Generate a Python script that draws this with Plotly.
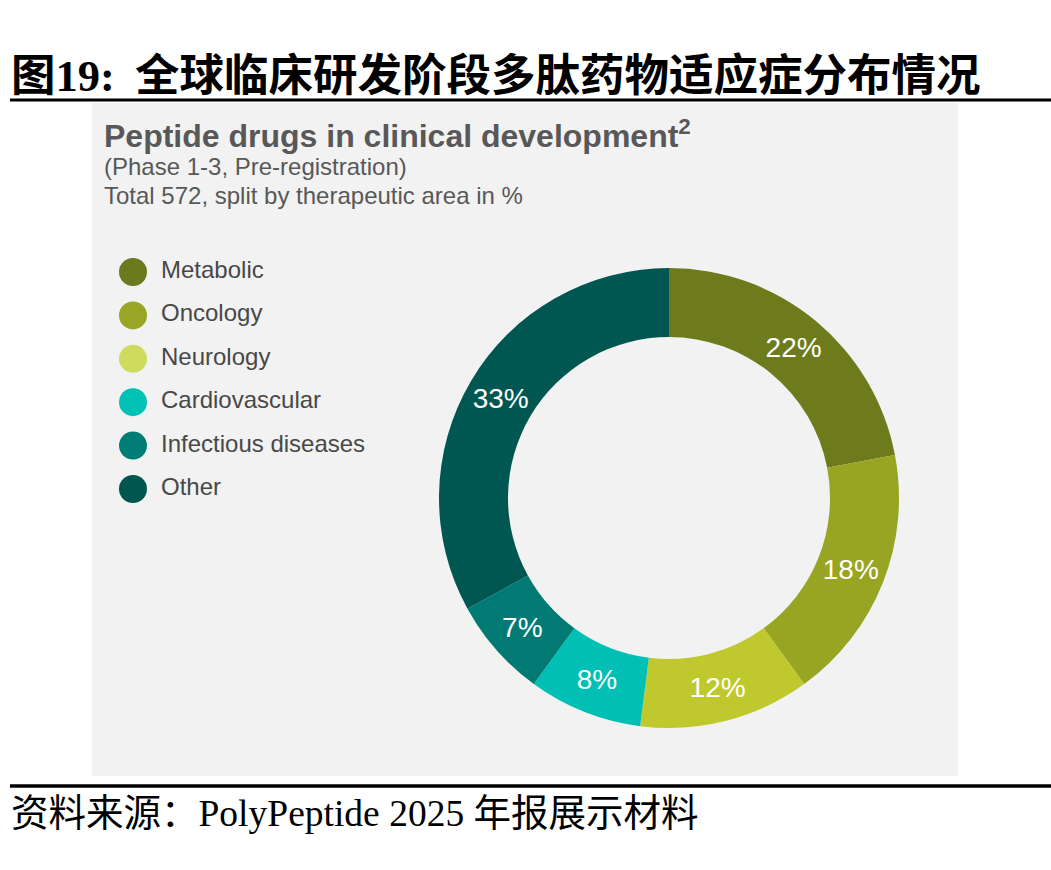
import plotly.graph_objects as go

# data
areas = ["Metabolic", "Oncology", "Neurology", "Cardiovascular", "Infectious diseases", "Other"]
shares = [22, 18, 12, 8, 7, 33]
colors = ["#6e7b1c", "#97a523", "#bfc92d", "#00bfb4", "#007a72", "#005752"]
legend_colors = ["#6b791f", "#98a625", "#cfdb5c", "#00c1b6", "#007d74", "#00554f"]

W, H = 1051, 870
FONT = "Liberation Sans, Arial, sans-serif"
CJK = "Noto Sans CJK SC"
GREY_TXT = "#585858"

def px(x):
    return x / W

def py(y):
    return 1 - y / H

fig = go.Figure()

# donut
cx, cy, r = 669, 498, 230
fig.add_trace(go.Pie(
    labels=areas,
    values=shares,
    sort=False,
    direction="clockwise",
    rotation=0,
    hole=0.70,
    marker=dict(colors=colors, line=dict(width=0)),
    texttemplate="%{value}%",
    textposition="inside",
    insidetextorientation="horizontal",
    textfont=dict(family=FONT, size=28, color="white"),
    domain=dict(x=[px(cx - r), px(cx + r)], y=[py(cy + r), py(cy - r)]),
    showlegend=False,
    hoverinfo="label+value",
))

# legend drawn as circles + labels
row0, step = 272, 43.4
idx = list(range(len(areas)))
fig.add_trace(go.Scatter(
    x=[0] * len(areas), y=idx, mode="markers",
    marker=dict(size=28, color=legend_colors),
    showlegend=False, hoverinfo="skip",
))
fig.add_trace(go.Scatter(
    x=[28] * len(areas), y=idx, mode="text", text=areas,
    textposition="middle right",
    textfont=dict(family=FONT, size=24, color="#484848"),
    showlegend=False, hoverinfo="skip",
))

fig.update_layout(
    width=W, height=H,
    margin=dict(l=0, r=0, t=0, b=0),
    paper_bgcolor="white",
    plot_bgcolor="rgba(0,0,0,0)",
    xaxis=dict(domain=[0, 1], range=[-133, W - 133], visible=False, fixedrange=True),
    yaxis=dict(domain=[0, 1], range=[(H - row0) / step, -row0 / step],
               visible=False, fixedrange=True),
    shapes=[
        # grey panel
        dict(type="rect", xref="paper", yref="paper", layer="below",
             x0=px(92), x1=px(958), y0=py(776), y1=py(103),
             fillcolor="#f2f2f2", line=dict(width=0)),
        # top and bottom rules
        dict(type="line", xref="paper", yref="paper",
             x0=px(10), x1=1, y0=py(100), y1=py(100),
             line=dict(color="black", width=3)),
        dict(type="line", xref="paper", yref="paper",
             x0=px(10), x1=1, y0=py(786), y1=py(786),
             line=dict(color="black", width=3.5)),
    ],
    annotations=[
        dict(xref="paper", yref="paper", x=px(9), y=py(72), xanchor="left", yanchor="middle",
             showarrow=False,
             text=("<b>图</b><span style=\"font-family:Liberation Serif\"><b>19:</b></span>"
                   "<b>  全球临床研发阶段多肽药物适应症分布情况</b>"),
             font=dict(family=CJK, size=44.5, color="black")),
        dict(xref="paper", yref="paper", x=px(102), y=py(134), xanchor="left", yanchor="middle",
             showarrow=False,
             text="<b>Peptide drugs in clinical development<sup>2</sup></b>",
             font=dict(family=FONT, size=32, color=GREY_TXT)),
        dict(xref="paper", yref="paper", x=px(102), y=py(166), xanchor="left", yanchor="middle",
             showarrow=False, text="(Phase 1-3, Pre-registration)",
             font=dict(family=FONT, size=24, color=GREY_TXT)),
        dict(xref="paper", yref="paper", x=px(102), y=py(196), xanchor="left", yanchor="middle",
             showarrow=False, text="Total 572, split by therapeutic area in %",
             font=dict(family=FONT, size=24, color=GREY_TXT)),
        dict(xref="paper", yref="paper", x=px(9), y=py(809), xanchor="left", yanchor="middle",
             showarrow=False,
             text=("资料来源：<span style=\"font-family:Liberation Serif\">PolyPeptide 2025 </span>"
                   "年报展示材料"),
             font=dict(family=CJK, size=37.5, color="black")),
    ],
)

fig.write_html("out.html", config={"displayModeBar": False},
               post_script="document.body.style.margin='0px';")
